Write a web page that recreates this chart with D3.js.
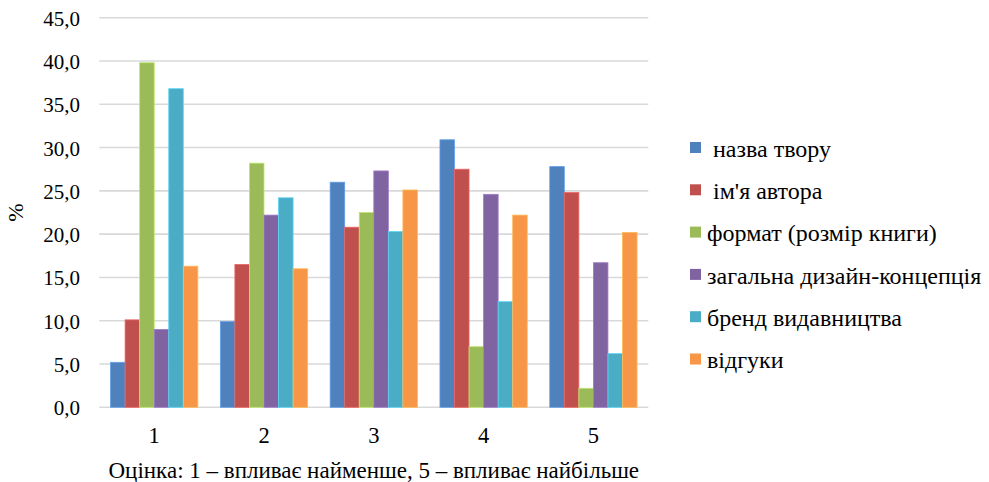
<!DOCTYPE html>
<html lang="uk">
<head>
<meta charset="utf-8">
<script src="https://cdn.jsdelivr.net/npm/d3@7"></script>
<style>
  html, body { margin: 0; padding: 0; background: #fff; }
  svg { display: block; }
  svg text { font-family: "Liberation Serif", "Times New Roman", "DejaVu Serif", serif; white-space: pre; }
</style>
</head>
<body>
<svg id="chart" width="989" height="482"></svg>
<script>
// Rating categories (x axis)
const categories = ["1", "2", "3", "4", "5"];

// Series names (legend) — the first two carry a leading space
const seriesNames = [
  " назва твору",
  " ім'я автора",
  "формат (розмір книги)",
  "загальна дизайн-концепція",
  "бренд видавництва",
  "відгуки"
];

// Series values, % per rating
const nazvaTvoru     = [5.2, 9.9, 26.0, 30.9, 27.8];
const imyaAvtora     = [10.1, 16.5, 20.8, 27.5, 24.8];
const formatKnyhy    = [39.8, 28.2, 22.5, 7.0, 2.2];
const dyzainKontsep  = [9.0, 22.2, 27.3, 24.6, 16.7];
const brendVydavn    = [36.8, 24.2, 20.3, 12.2, 6.2];
const vidhuky        = [16.3, 16.0, 25.1, 22.2, 20.2];

const seriesValues = [nazvaTvoru, imyaAvtora, formatKnyhy, dyzainKontsep, brendVydavn, vidhuky];
const seriesColors = ["#4F81BD", "#C0504D", "#9BBB59", "#8064A2", "#4BACC6", "#F79646"];

// Y axis ticks
const yTicks = [0, 5, 10, 15, 20, 25, 30, 35, 40, 45];
const yLabel = "%";
const xTitle = "Оцінка: 1 – впливає найменше, 5 – впливає найбільше";

const svg = d3.select("#chart");
const serif = "'Liberation Serif', 'Times New Roman', serif";

const plot = { left: 99.3, right: 648.3, top: 17.7, bottom: 407.3 };

const x = d3.scaleBand()
  .domain(categories)
  .range([plot.left, plot.right])
  .paddingInner(0.205)
  .paddingOuter(0.1025);

const xs = d3.scaleBand()
  .domain(d3.range(seriesNames.length))
  .range([0, x.bandwidth()])
  .padding(0);

const y = d3.scaleLinear()
  .domain([0, 45])
  .range([plot.bottom, plot.top]);

const fmt = v => d3.format(".1f")(v).replace(".", ",");

// Horizontal gridlines
svg.append("g")
  .selectAll("line")
  .data(yTicks)
  .join("line")
  .attr("x1", plot.left)
  .attr("x2", plot.right)
  .attr("y1", d => y(d))
  .attr("y2", d => y(d))
  .attr("stroke", "#D9D9D9")
  .attr("stroke-width", 1.6);

// Y tick labels
svg.append("g")
  .selectAll("text")
  .data(yTicks)
  .join("text")
  .attr("x", 80)
  .attr("y", d => y(d) + 8)
  .attr("text-anchor", "end")
  .attr("font-family", serif)
  .attr("font-size", 21)
  .attr("fill", "#000")
  .text(fmt);

// Y axis title
svg.append("text")
  .attr("transform", `translate(23, ${(plot.top + plot.bottom) / 2}) rotate(-90)`)
  .attr("text-anchor", "middle")
  .attr("font-family", serif)
  .attr("font-size", 22)
  .attr("fill", "#000")
  .text(yLabel);

// Bars
const groups = svg.append("g")
  .selectAll("g")
  .data(categories)
  .join("g")
  .attr("transform", d => `translate(${x(d)},0)`);

groups.selectAll("rect")
  .data((c, ci) => seriesValues.map((vals, si) => ({ si, v: vals[ci] })))
  .join("rect")
  .attr("x", d => xs(d.si))
  .attr("width", xs.bandwidth())
  .attr("y", d => y(d.v))
  .attr("height", d => y(0) - y(d.v))
  .attr("fill", d => seriesColors[d.si])
  .attr("stroke", d => d3.color(seriesColors[d.si]).brighter(0.6))
  .attr("stroke-width", 0.8);

// Category labels
svg.append("g")
  .selectAll("text")
  .data(categories)
  .join("text")
  .attr("x", d => x(d) + x.bandwidth() / 2)
  .attr("y", plot.bottom + 36)
  .attr("text-anchor", "middle")
  .attr("font-family", serif)
  .attr("font-size", 22.5)
  .attr("fill", "#000")
  .text(d => d);

// X axis title
svg.append("text")
  .attr("x", (plot.left + plot.right) / 2)
  .attr("y", 478)
  .attr("text-anchor", "middle")
  .attr("font-family", serif)
  .attr("font-size", 23)
  .attr("fill", "#000")
  .text(xTitle);

// Legend
const legend = svg.append("g")
  .selectAll("g")
  .data(seriesNames)
  .join("g")
  .attr("transform", (d, i) => `translate(690, ${142 + i * 42.3})`);

legend.append("rect")
  .attr("width", 11)
  .attr("height", 11)
  .attr("fill", (d, i) => seriesColors[i]);

legend.append("text")
  .attr("x", 17)
  .attr("y", 14.6)
  .attr("font-family", serif)
  .attr("font-size", 24)
  .attr("fill", "#000")
  .text(d => d);
</script>
</body>
</html>
